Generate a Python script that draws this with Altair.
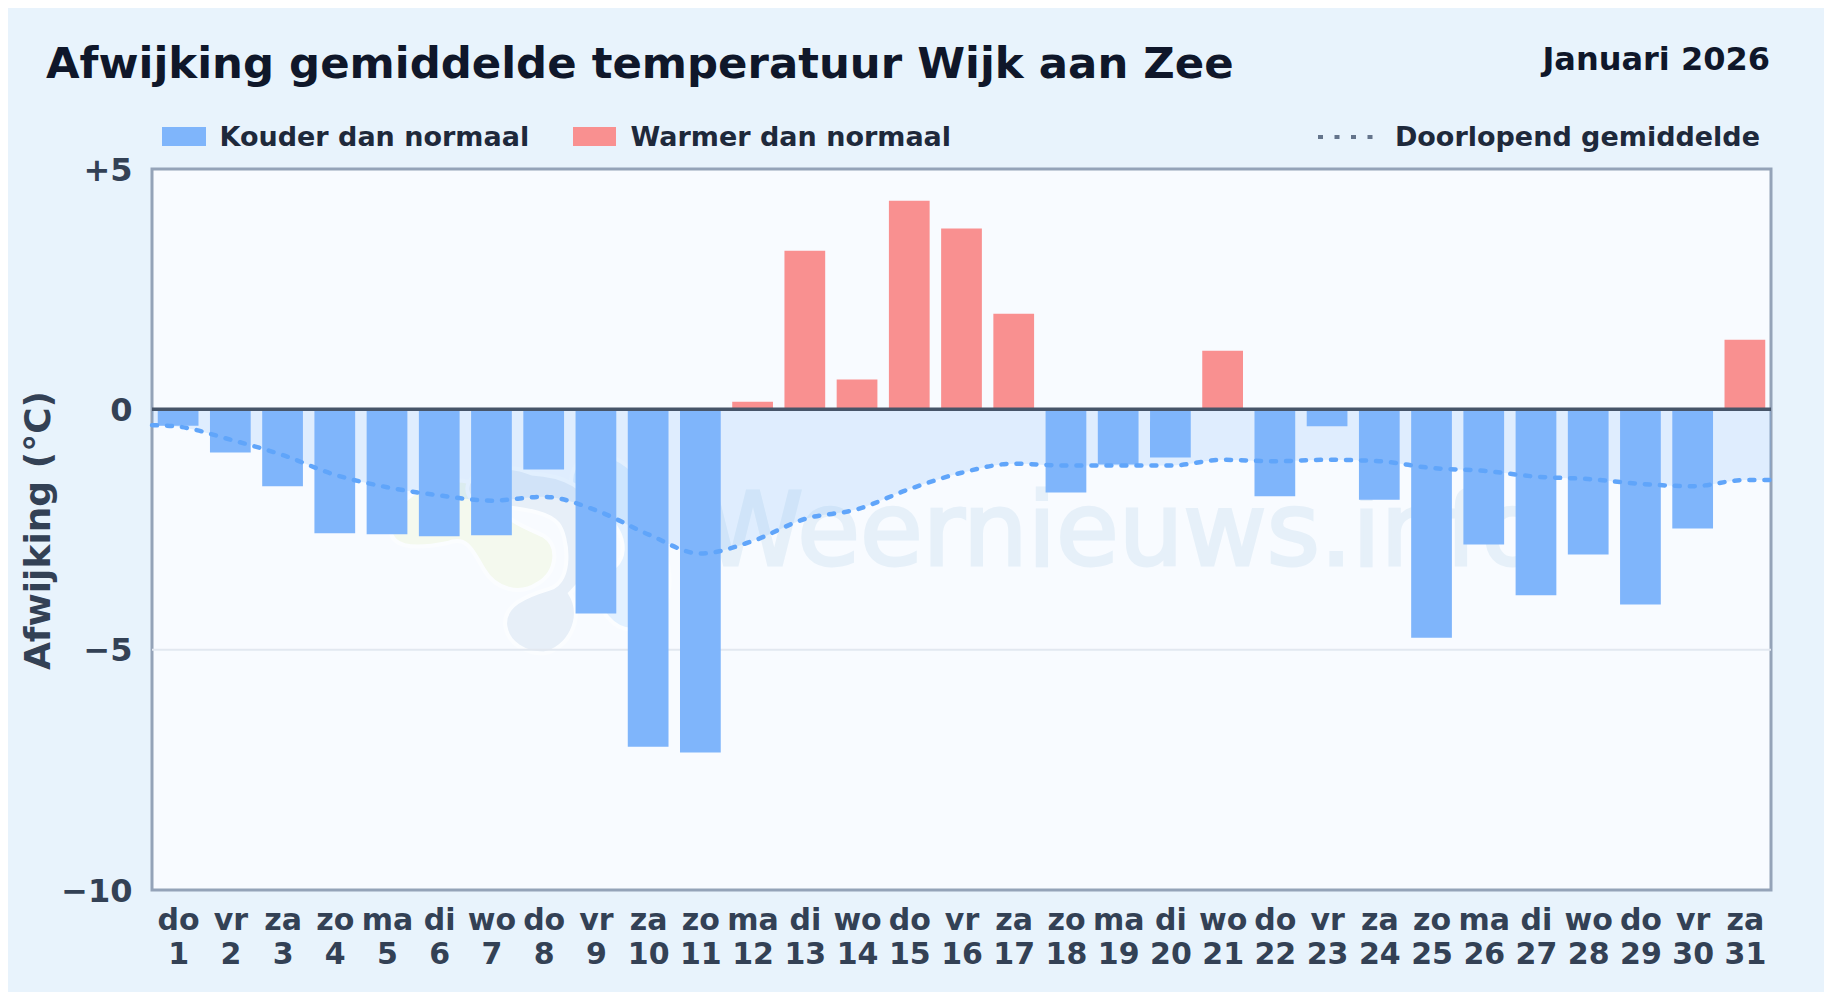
import altair as alt
import pandas as pd

DAY_NAMES = ["do","vr","za","zo","ma","di","wo","do","vr","za","zo","ma","di","wo","do","vr","za","zo","ma","di","wo","do","vr","za","zo","ma","di","wo","do","vr","za"]
DAYS = list(range(1, 32))
VALUES = [-0.34,-0.9,-1.6,-2.58,-2.6,-2.64,-2.62,-1.25,-4.25,-7.02,-7.14,0.16,3.3,0.62,4.34,3.76,1.99,-1.73,-1.15,-1.0,1.22,-1.81,-0.35,-1.88,-4.75,-2.81,-3.87,-3.02,-4.06,-2.48,1.45]
RUN_DAYS = [0.5] + DAYS + [31.5]
RUNNING = [-0.33,-0.36,-0.63,-0.95,-1.36,-1.62,-1.79,-1.9,-1.82,-2.1,-2.6,-3.0,-2.74,-2.28,-2.08,-1.66,-1.32,-1.13,-1.17,-1.17,-1.17,-1.05,-1.08,-1.05,-1.08,-1.22,-1.28,-1.4,-1.45,-1.55,-1.6,-1.47,-1.47]

PLOT_W, PLOT_H = 1619, 721
BLUE, RED = "#7fb5fb", "#f99090"
TEXT = "#1e293b"
AXIS_TEXT = "#334155"
FONT = "DejaVu Sans"

bars = pd.DataFrame({"day": DAYS, "value": VALUES})
bars["x0"] = bars["day"] - 0.39
bars["x1"] = bars["day"] + 0.39
bars["base"] = 0.0
bars["soort"] = ["Warmer dan normaal" if v > 0 else "Kouder dan normaal" for v in VALUES]
run = pd.DataFrame({"day": RUN_DAYS, "running": RUNNING, "base": [0.0] * len(RUN_DAYS)})

xs = alt.Scale(domain=[0.5, 31.5], nice=False, zero=False)
ys = alt.Scale(domain=[-10, 5], nice=False)
names = "[" + ",".join(f"'{n}'" for n in DAY_NAMES) + "]"
x_axis = alt.Axis(values=DAYS, title=None, grid=False, domain=False, ticks=False,
                  labelExpr=f"[{names}[datum.value-1], ''+datum.value]",
                  labelFont=FONT, labelFontWeight=600, labelFontSize=30, labelColor=AXIS_TEXT,
                  labelLineHeight=34, labelPadding=15, labelOverlap=False, labelFlush=False, labelBound=False)
y_axis = alt.Axis(values=[-10, -5, 0, 5], title="Afwijking (°C)", domain=False, ticks=False,
                  grid=False,
                  labelExpr="datum.value>0?'+'+datum.value:(datum.value<0?'−'+abs(datum.value):'0')",
                  labelFont=FONT, labelFontWeight=600, labelFontSize=32, labelColor=AXIS_TEXT,
                  labelPadding=20, labelOffset=1,
                  titleFont=FONT, titleFontWeight=700, titleFontSize=36, titleColor=AXIS_TEXT,
                  titleX=-114, titleY=361, titleAnchor="middle", titleAlign="center", titleBaseline="middle")

# faint logo behind the plot, shapes in unit coordinates around one anchor point
LOGO_YELLOW = "M-1.08,-0.3 C-1.1,-0.1 -0.9,-0.08 -0.6,-0.14 C-0.45,-0.2 -0.4,-0.1 -0.3,0.08 C-0.2,0.25 0,0.3 0.15,0.2 C0.32,0.1 0.33,-0.12 0.2,-0.2 C0,-0.3 -0.1,-0.3 -0.25,-0.55 C-0.5,-0.8 -1,-0.6 -1.08,-0.3 Z"
LOGO_GREY = "M-0.12,0.55 C-0.14,0.38 0.05,0.3 0.25,0.24 C0.45,0.18 0.4,-0.2 0.32,-0.3 C0.2,-0.45 -0.2,-0.42 -0.4,-0.5 C-0.55,-0.7 -0.2,-0.85 0.1,-0.72 C0.45,-0.7 0.6,-0.55 0.65,-0.35 C0.7,-0.1 0.6,0.1 0.42,0.28 C0.55,0.48 0.4,0.75 0.2,0.78 C0.05,0.78 -0.1,0.7 -0.12,0.55 Z"
LOGO_BLUE = "M0.66,0.2 C0.62,0.4 0.78,0.62 1,0.58 C1.25,0.5 1.3,0.2 1.2,-0.1 C1.15,-0.5 1.0,-0.8 0.7,-0.88 C0.45,-0.9 0.35,-0.65 0.5,-0.5 C0.8,-0.4 0.95,-0.1 0.8,0.05 C0.72,0.1 0.68,0.14 0.66,0.2 Z"
logo = alt.Chart(pd.DataFrame({"day": [7.54], "v": [-3.13]}))
def logo_part(shape, colour):
    return logo.mark_point(shape=shape, filled=True, fill=colour, opacity=1, stroke="#fbfdff", strokeWidth=4, size=57600).encode(
        x=alt.X("day:Q", scale=xs, axis=x_axis), y=alt.Y("v:Q", scale=ys, axis=y_axis))
logos = logo_part(LOGO_YELLOW, "#f4f9ee") + logo_part(LOGO_BLUE, "#e3f1ff") + logo_part(LOGO_GREY, "#e7eff8")

watermark = alt.Chart(pd.DataFrame({"day": [11.04], "v": [-3.23], "t": ["Weernieuws.info"]})).mark_text(
    font=FONT, fontSize=102, align="left", baseline="alphabetic", color="#e6f0f9", stroke="#e6f0f9", strokeWidth=3).encode(
    x=alt.X("day:Q", scale=xs), y=alt.Y("v:Q", scale=ys), text="t:N")

grid = alt.Chart(pd.DataFrame({"v": [-5]})).mark_rule(color="#e2e8f0", strokeWidth=2).encode(y=alt.Y("v:Q", scale=ys))

area = alt.Chart(run).mark_area(color="#60a5fa", opacity=0.16, interpolate="monotone").encode(
    x=alt.X("day:Q", scale=xs), y=alt.Y("running:Q", scale=ys), y2="base:Q")

bar = alt.Chart(bars).mark_bar().encode(
    x=alt.X("x0:Q", scale=xs), x2="x1:Q",
    y=alt.Y("value:Q", scale=ys), y2="base:Q",
    color=alt.Color("soort:N", scale=alt.Scale(domain=["Kouder dan normaal", "Warmer dan normaal"], range=[BLUE, RED]), legend=None))

zero = alt.Chart(pd.DataFrame({"v": [0]})).mark_rule(color="#475569", strokeWidth=3.5).encode(y=alt.Y("v:Q", scale=ys))

line = alt.Chart(run).mark_line(color="#60a5fa", strokeWidth=4.5, strokeDash=[5, 10], strokeCap="round", interpolate="monotone").encode(
    x=alt.X("day:Q", scale=xs), y=alt.Y("running:Q", scale=ys))

def swatch(x0, x1, colour):
    return alt.Chart(pd.DataFrame({"a": [0]})).mark_rect(color=colour).encode(
        x=alt.value(x0), x2=alt.value(x1), y=alt.value(-42), y2=alt.value(-23))

def label(text, x, y, size, colour, align="left"):
    return alt.Chart(pd.DataFrame({"t": [text]})).mark_text(
        font=FONT, fontWeight="bold", fontSize=size, color=colour, align=align, baseline="alphabetic").encode(
        x=alt.value(x), y=alt.value(y), text="t:N")

legend_line = alt.Chart(pd.DataFrame({"a": [0]})).mark_rule(color="#64748b", strokeWidth=4, strokeDash=[5, 11.5]).encode(
    x=alt.value(1166), x2=alt.value(1222), y=alt.value(-32))

chart = alt.layer(
    logos, watermark, grid, area, bar, zero, line,
    swatch(10, 54, BLUE), label("Kouder dan normaal", 67.5, -23.5, 27, TEXT),
    swatch(421, 464, RED), label("Warmer dan normaal", 478.5, -23.5, 27, TEXT),
    legend_line, label("Doorlopend gemiddelde", 1608, -23.5, 27, TEXT, "right"),
    label("Januari 2026", 1618, -99, 32, "#0f172a", "right"),
).properties(
    width=PLOT_W, height=PLOT_H,
    title=alt.TitleParams("Afwijking gemiddelde temperatuur Wijk aan Zee", anchor="start", frame="group",
                          dx=-106, dy=77, offset=0, baseline="alphabetic",
                          font=FONT, fontWeight="bold", fontSize=43.4, color="#0f172a"),
    autosize=alt.AutoSizeParams(type="none"),
    padding={"left": 144, "top": 161, "right": 53, "bottom": 102},
    background="#e8f3fc",
).configure_view(fill="#f8fbff", stroke="#94a3b8", strokeWidth=3)

chart.save("out.html", embed_options={"renderer": "svg", "actions": False})
